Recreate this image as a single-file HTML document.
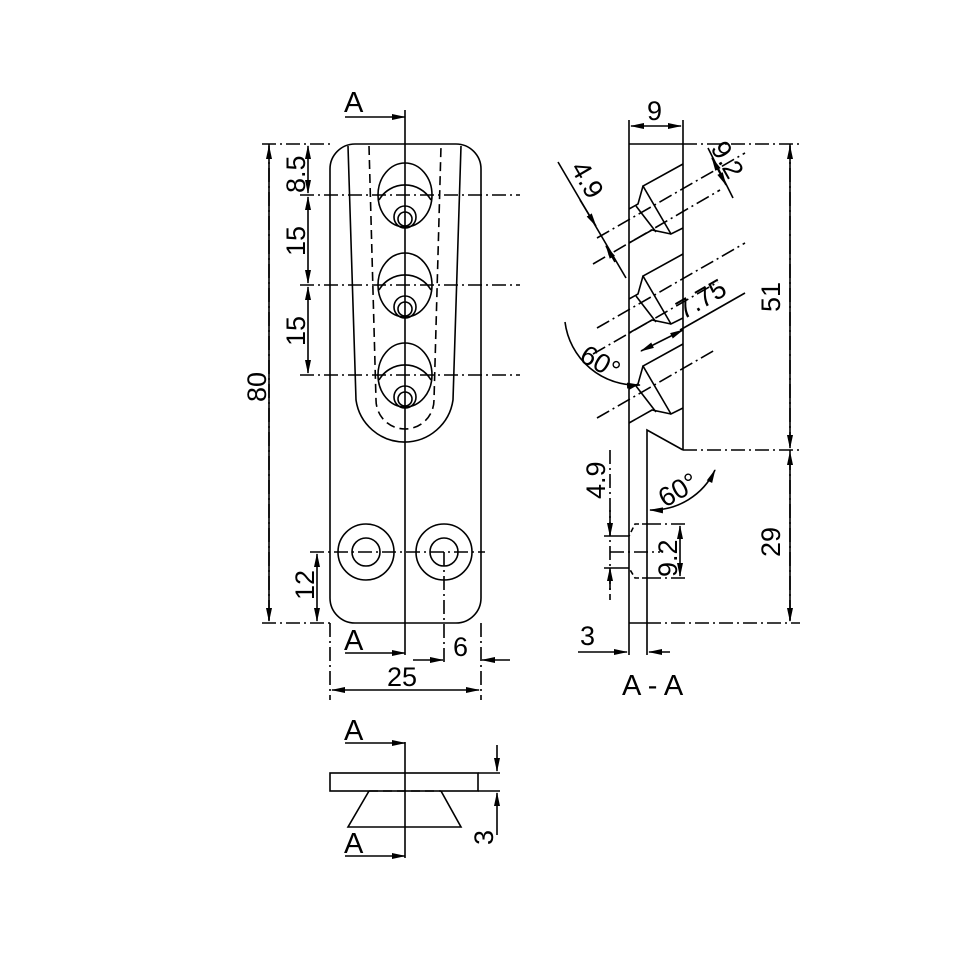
<!DOCTYPE html>
<html><head><meta charset="utf-8"><style>body{margin:0;background:#fff}svg{display:block}</style></head><body>
<svg width="960" height="960" viewBox="0 0 960 960" xmlns="http://www.w3.org/2000/svg" font-family="Liberation Sans, sans-serif" font-size="27" fill="none" stroke="#000" stroke-width="1.5">
<defs>
<marker id="ar" markerWidth="14" markerHeight="8" refX="13" refY="4" orient="auto-start-reverse" markerUnits="userSpaceOnUse"><path d="M0,1 L14,4 L0,7Z" fill="#000" stroke="none"/></marker>
</defs>
<g stroke-width="1.6">
<path d="M355,144 H456 A25,25 0 0 1 481,169 V598 A25,25 0 0 1 456,623 H355 A25,25 0 0 1 330,598 V169 A25,25 0 0 1 355,144Z"/>
<path d="M348,146 L356,400 A49,49 0 0 0 453,400 L461,146"/>
<path d="M369,146 L376,400 A29,29 0 0 0 434,400 L441,146" stroke-dasharray="9,5"/>
<line x1="405" y1="110" x2="405" y2="655"/>
<g id="hole">
<ellipse cx="405" cy="195" rx="27" ry="32"/>
<path d="M379,200 A30,30 0 0 1 431,200"/>
<circle cx="405" cy="217" r="11"/>
<circle cx="405" cy="219" r="7"/>
</g>
<use href="#hole" y="90"/>
<use href="#hole" y="180"/>
<circle cx="366" cy="552" r="28"/><circle cx="366" cy="552" r="14"/>
<circle cx="444" cy="552" r="28"/><circle cx="444" cy="552" r="14"/>
<g stroke-dasharray="14,4,2,4">
<line x1="262" y1="144" x2="330" y2="144"/>
<line x1="262" y1="623" x2="330" y2="623"/>
<line x1="300" y1="195" x2="520" y2="195"/>
<line x1="300" y1="285" x2="520" y2="285"/>
<line x1="300" y1="375" x2="520" y2="375"/>
<line x1="310" y1="552" x2="485" y2="552"/>
<line x1="330" y1="623" x2="330" y2="700"/>
<line x1="481" y1="623" x2="481" y2="700"/>
<line x1="444" y1="552" x2="444" y2="665"/>
<line x1="269" y1="144" x2="269" y2="623"/>
</g>
<line x1="269" y1="146" x2="269" y2="621" marker-start="url(#ar)" marker-end="url(#ar)"/>
<line x1="308" y1="146" x2="308" y2="193" marker-start="url(#ar)" marker-end="url(#ar)"/>
<line x1="308" y1="197" x2="308" y2="283" marker-start="url(#ar)" marker-end="url(#ar)"/>
<line x1="308" y1="287" x2="308" y2="373" marker-start="url(#ar)" marker-end="url(#ar)"/>
<line x1="317" y1="554" x2="317" y2="621" marker-start="url(#ar)" marker-end="url(#ar)"/>
<line x1="332" y1="690" x2="479" y2="690" marker-start="url(#ar)" marker-end="url(#ar)"/>
<line x1="413" y1="660" x2="443" y2="660" marker-end="url(#ar)"/>
<line x1="510" y1="660" x2="482" y2="660" marker-end="url(#ar)"/>
<line x1="345" y1="117" x2="405" y2="117" marker-end="url(#ar)"/>
<line x1="345" y1="653" x2="405" y2="653" marker-end="url(#ar)"/>
<line x1="629" y1="120" x2="629" y2="655"/>
<line x1="683" y1="120" x2="683" y2="450"/>
<line x1="629" y1="144" x2="683" y2="144"/>
<line x1="629" y1="623" x2="647" y2="623"/>
<path d="M647,655 V430 L683,450"/>
<line x1="631" y1="126" x2="681" y2="126" marker-start="url(#ar)" marker-end="url(#ar)"/>
<g id="cs">
<path d="M683,164 L643,186 L671,234 L683,228"/>
<path d="M643,186 L638,204 L629,209"/>
<path d="M671,234 L652,230 L629,243"/>
<line x1="636" y1="206" x2="656" y2="232"/>
</g>
<use href="#cs" y="90"/>
<use href="#cs" y="180"/>
<path d="M647,524 H635 L629,536 M647,578 H635 L629,568" stroke-dasharray="5,3"/>
<g stroke-dasharray="14,4,2,4">
<line x1="597" y1="238" x2="745" y2="153"/>
<line x1="593" y1="264" x2="720" y2="190"/>
<line x1="597" y1="328" x2="745" y2="243"/>
<line x1="593" y1="354" x2="718" y2="282"/>
<line x1="597" y1="418" x2="715" y2="350"/>
<line x1="683" y1="144" x2="800" y2="144"/>
<line x1="683" y1="450" x2="800" y2="450"/>
<line x1="647" y1="623" x2="800" y2="623"/>
<line x1="790" y1="144" x2="790" y2="623"/>
<line x1="647" y1="524" x2="688" y2="524"/>
<line x1="647" y1="578" x2="688" y2="578"/>
<line x1="610" y1="552" x2="660" y2="552"/>
<line x1="610" y1="450" x2="610" y2="600"/>
</g>
<line x1="790" y1="146" x2="790" y2="448" marker-start="url(#ar)" marker-end="url(#ar)"/>
<line x1="790" y1="452" x2="790" y2="621" marker-start="url(#ar)" marker-end="url(#ar)"/>
<line x1="680" y1="526" x2="680" y2="576" marker-start="url(#ar)" marker-end="url(#ar)"/>
<line x1="610" y1="510" x2="610" y2="536" marker-end="url(#ar)"/>
<line x1="610" y1="590" x2="610" y2="568" marker-end="url(#ar)"/>
<line x1="604" y1="536" x2="629" y2="536"/><line x1="604" y1="568" x2="629" y2="568"/>
<line x1="578" y1="652" x2="627" y2="652" marker-end="url(#ar)"/>
<line x1="670" y1="652" x2="649" y2="652" marker-end="url(#ar)"/>
<line x1="558" y1="162" x2="626" y2="278"/>
<line x1="580" y1="200" x2="596" y2="226" marker-end="url(#ar)"/>
<line x1="615" y1="262" x2="606" y2="246" marker-end="url(#ar)"/>
<line x1="708" y1="148" x2="733" y2="198"/>
<line x1="712" y1="158" x2="726" y2="185" marker-start="url(#ar)" marker-end="url(#ar)"/>
<line x1="641" y1="351" x2="683" y2="330" marker-start="url(#ar)" marker-end="url(#ar)"/>
<line x1="680" y1="330" x2="745" y2="293"/>
<path d="M565,322 A72,72 0 0 0 640,385" marker-end="url(#ar)"/>
<path d="M650,510 A70,70 0 0 0 715,470" marker-start="url(#ar)" marker-end="url(#ar)"/>
<rect x="330" y="773" width="148" height="18"/>
<line x1="478" y1="773" x2="500" y2="773"/><line x1="478" y1="791" x2="500" y2="791"/>
<path d="M369,791 L348,827 H461 L441,791"/>
<line x1="369" y1="791" x2="441" y2="791" stroke-dasharray="9,5"/>
<line x1="405" y1="742" x2="405" y2="858"/>
<line x1="497" y1="745" x2="497" y2="771" marker-end="url(#ar)"/>
<line x1="497" y1="835" x2="497" y2="793" marker-end="url(#ar)"/>
<line x1="345" y1="743" x2="405" y2="743" marker-end="url(#ar)"/>
<line x1="345" y1="856" x2="405" y2="856" marker-end="url(#ar)"/>
</g>
<g fill="#000" stroke="none">
<text x="344" y="112" font-size="29">A</text>
<text x="344" y="650" font-size="29">A</text>
<text x="344" y="740" font-size="29">A</text>
<text x="344" y="853" font-size="29">A</text>
<text x="387" y="686">25</text>
<text x="453" y="656">6</text>
<text transform="translate(305,193) rotate(-90)">8.5</text>
<text transform="translate(305,256) rotate(-90)">15</text>
<text transform="translate(305,346) rotate(-90)">15</text>
<text transform="translate(266,402) rotate(-90)">80</text>
<text transform="translate(314,600) rotate(-90)">12</text>
<text transform="translate(493,845) rotate(-90)">3</text>
<text x="647" y="120">9</text>
<text transform="translate(780,312) rotate(-90)">51</text>
<text transform="translate(780,557) rotate(-90)">29</text>
<text transform="translate(605,499) rotate(-90)">4.9</text>
<text transform="translate(677,577) rotate(-90)">9.2</text>
<text x="580" y="645">3</text>
<text x="622" y="695" font-size="29">A - A</text>
<text transform="translate(570,168) rotate(60)">4.9</text>
<text transform="translate(710,148) rotate(60)">9.2</text>
<text transform="translate(683,320) rotate(-30)">7.75</text>
<text transform="translate(578,360) rotate(30)">60°</text>
<text transform="translate(665,508) rotate(-30)">60°</text>
</g>
</svg>
</body></html>
